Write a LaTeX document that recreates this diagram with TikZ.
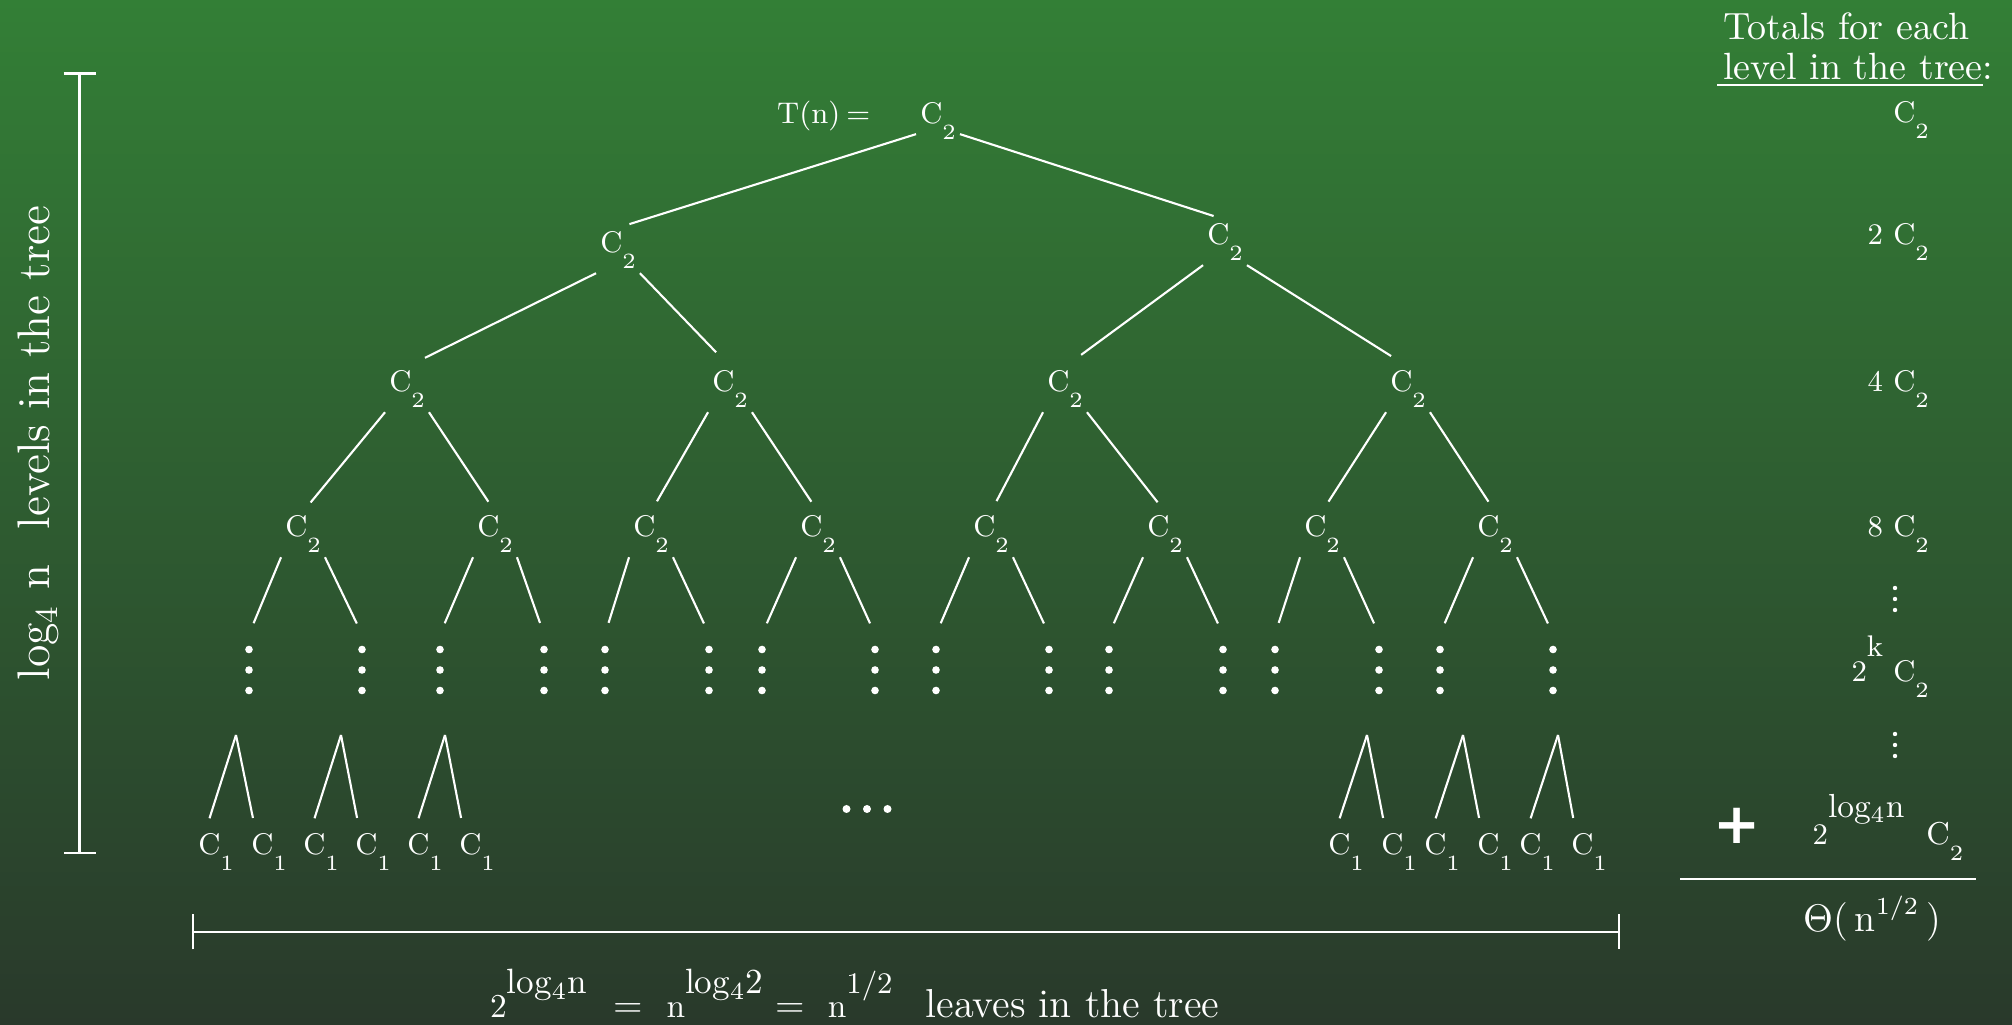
\documentclass[tikz,border=0pt]{standalone}
\usepackage{fontspec}
\usepackage{tikz}
\usetikzlibrary{arrows.meta}

\newfontfamily\plusfont{DejaVu Sans}

\definecolor{boardtop}{RGB}{51,127,54}
\definecolor{boardbot}{RGB}{41,57,43}

% C with its index dropped well below the line
\newcommand{\cterm}[1]{C\raisebox{-1.6mm}{\fontsize{6.2}{7}\selectfont #1}}
% base with a large raised exponent
\newcommand{\bigexp}[3]{{\fontsize{9.5}{11}\selectfont #1}\raisebox{2.4mm}{\fontsize{#3}{11}\selectfont #2}}

\begin{document}
\begin{tikzpicture}[x=1cm,y=1cm,
  term/.style={text=white,font=\fontsize{8.5}{10}\selectfont,inner sep=1pt,anchor=base},
  total/.style={text=white,font=\fontsize{8.5}{10}\selectfont,inner sep=1pt,anchor=base east},
  br/.style={draw=white,line width=0.6pt,shorten >=1.2mm},
  dim/.style={draw=white,line width=0.6pt,{Bar[width=3.2mm]}-{Bar[width=3.2mm]}},
  dotcol/.style={minimum width=2mm,minimum height=7mm,inner sep=0pt,
    path picture={\foreach \k in {-1,0,1}
      \fill[white] ([yshift=\k*2.05mm]path picture bounding box.center) circle (0.38mm);}},
  smalldots/.style={minimum width=1mm,minimum height=3.2mm,inner sep=0pt,
    path picture={\foreach \k in {-1,0,1}
      \fill[white] ([yshift=\k*1.1mm]path picture bounding box.center) circle (0.22mm);}},
  dotrow/.style={minimum width=6mm,minimum height=2mm,inner sep=0pt,
    path picture={\foreach \k in {-1,0,1}
      \fill[white] ([xshift=\k*2.05mm]path picture bounding box.center) circle (0.4mm);}}]
\useasboundingbox (0,0) rectangle (20.12,10.25);
\shade[top color=boardtop,bottom color=boardbot] (0,0) rectangle (20.12,10.25);

% recursion tree
\node[term,anchor=base west] (tn) at (7.73,9.01) {T(n)\hspace{0.6mm}=};
\node[term] (r) at (9.38,9.01) {\cterm{2}};
\node[term] (a1) at (6.18,7.72) {\cterm{2}};
\node[term] (a2) at (12.25,7.80) {\cterm{2}};
\node[term] (b1) at (4.07,6.33) {\cterm{2}};
\node[term] (b2) at (7.30,6.33) {\cterm{2}};
\node[term] (b3) at (10.65,6.33) {\cterm{2}};
\node[term] (b4) at (14.08,6.33) {\cterm{2}};
\node[term] (c1) at (3.03,4.88) {\cterm{2}};
\node[term] (c2) at (4.95,4.88) {\cterm{2}};
\node[term] (c3) at (6.51,4.88) {\cterm{2}};
\node[term] (c4) at (8.18,4.88) {\cterm{2}};
\node[term] (c5) at (9.91,4.88) {\cterm{2}};
\node[term] (c6) at (11.65,4.88) {\cterm{2}};
\node[term] (c7) at (13.22,4.88) {\cterm{2}};
\node[term] (c8) at (14.95,4.88) {\cterm{2}};
\node[dotcol] (d1) at (2.49,3.55) {};
\node[dotcol] (d2) at (3.62,3.55) {};
\node[dotcol] (d3) at (4.40,3.55) {};
\node[dotcol] (d4) at (5.44,3.55) {};
\node[dotcol] (d5) at (6.05,3.55) {};
\node[dotcol] (d6) at (7.09,3.55) {};
\node[dotcol] (d7) at (7.62,3.55) {};
\node[dotcol] (d8) at (8.75,3.55) {};
\node[dotcol] (d9) at (9.36,3.55) {};
\node[dotcol] (d10) at (10.49,3.55) {};
\node[dotcol] (d11) at (11.09,3.55) {};
\node[dotcol] (d12) at (12.23,3.55) {};
\node[dotcol] (d13) at (12.75,3.55) {};
\node[dotcol] (d14) at (13.79,3.55) {};
\node[dotcol] (d15) at (14.40,3.55) {};
\node[dotcol] (d16) at (15.53,3.55) {};
\node[term] (l1) at (2.16,1.70) {\cterm{1}};
\node[term] (l2) at (2.69,1.70) {\cterm{1}};
\node[term] (l3) at (3.21,1.70) {\cterm{1}};
\node[term] (l4) at (3.73,1.70) {\cterm{1}};
\node[term] (l5) at (4.25,1.70) {\cterm{1}};
\node[term] (l6) at (4.77,1.70) {\cterm{1}};
\node[term] (l7) at (13.46,1.70) {\cterm{1}};
\node[term] (l8) at (13.99,1.70) {\cterm{1}};
\node[term] (l9) at (14.42,1.70) {\cterm{1}};
\node[term] (l10) at (14.95,1.70) {\cterm{1}};
\node[term] (l11) at (15.37,1.70) {\cterm{1}};
\node[term] (l12) at (15.89,1.70) {\cterm{1}};
\node[dotrow] (mid) at (8.67,2.16) {};
\coordinate (p1) at (2.36,2.90);
\coordinate (p2) at (3.41,2.90);
\coordinate (p3) at (4.45,2.90);
\coordinate (p4) at (13.67,2.90);
\coordinate (p5) at (14.63,2.90);
\coordinate (p6) at (15.58,2.90);

\draw[br] (r.210) -- (a1.north);
\draw[br] (r.-30) -- (a2.north);
\draw[br,shorten >=2mm] (a1.south west) -- (b1.north);
\draw[br,shorten >=2mm] (a1.south east) -- (b2.north);
\draw[br,shorten >=2mm] (a2.south west) -- (b3.north);
\draw[br,shorten >=2mm] (a2.south east) -- (b4.north);
\draw[br] (b1.south west) -- (c1.north);
\draw[br] (b1.south east) -- (c2.north);
\draw[br] (b2.south west) -- (c3.north);
\draw[br] (b2.south east) -- (c4.north);
\draw[br] (b3.south west) -- (c5.north);
\draw[br] (b3.south east) -- (c6.north);
\draw[br] (b4.south west) -- (c7.north);
\draw[br] (b4.south east) -- (c8.north);
\draw[br] (c1.south west) -- (d1.north);
\draw[br] (c1.south east) -- (d2.north);
\draw[br] (c2.south west) -- (d3.north);
\draw[br] (c2.south east) -- (d4.north);
\draw[br] (c3.south west) -- (d5.north);
\draw[br] (c3.south east) -- (d6.north);
\draw[br] (c4.south west) -- (d7.north);
\draw[br] (c4.south east) -- (d8.north);
\draw[br] (c5.south west) -- (d9.north);
\draw[br] (c5.south east) -- (d10.north);
\draw[br] (c6.south west) -- (d11.north);
\draw[br] (c6.south east) -- (d12.north);
\draw[br] (c7.south west) -- (d13.north);
\draw[br] (c7.south east) -- (d14.north);
\draw[br] (c8.south west) -- (d15.north);
\draw[br] (c8.south east) -- (d16.north);
\draw[br] (p1) -- (l1.114);
\draw[br] (p1) -- (l2.121);
\draw[br] (p2) -- (l3.114);
\draw[br] (p2) -- (l4.121);
\draw[br] (p3) -- (l5.114);
\draw[br] (p3) -- (l6.121);
\draw[br] (p4) -- (l7.114);
\draw[br] (p4) -- (l8.121);
\draw[br] (p5) -- (l9.114);
\draw[br] (p5) -- (l10.121);
\draw[br] (p6) -- (l11.114);
\draw[br] (p6) -- (l12.121);

% height of the tree
\coordinate (lvtop) at (0.795,9.525);
\coordinate (lvbot) at (0.795,1.71);
\draw[dim] (lvtop) -- (lvbot);
\node[rotate=90,anchor=base,text=white,font=\fontsize{13}{15}\selectfont,inner sep=0pt] (nlevels) at (0.50,5.82) {log\textsubscript{4} n\hspace{3.6mm}levels in the tree};

% width of the leaf level
\coordinate (lfleft) at (1.92,0.93);
\coordinate (lfright) at (16.20,0.93);
\draw[dim,{Bar[width=3.5mm]}-{Bar[width=3.5mm]}] (lfleft) -- (lfright);
\node[anchor=base west,text=white,font=\fontsize{11}{13}\selectfont,inner sep=1pt] (nleaves) at (4.86,0.07) {\bigexp{2}{log\textsubscript{4}n}{10}\hspace{2.6mm}=\hspace{2.4mm}\bigexp{n}{log\textsubscript{4}2}{10}\hspace{1.2mm}=\hspace{2.3mm}\bigexp{n}{1/2}{8.5}\hspace{3.3mm}{\fontsize{11.5}{13}\selectfont leaves in the tree}};

% per-level totals
\node[anchor=north west,align=left,text=white,font=\fontsize{10.8}{11.4}\selectfont,inner sep=1pt] (head) at (17.13,10.165) {\hspace*{0.6mm}Totals for each\\\underline{\hspace*{0.6mm}level in the tree}:};
\node[total] (t0) at (19.33,9.02) {\cterm{2}};
\node[total] (t1) at (19.33,7.80) {2 \cterm{2}};
\node[total] (t2) at (19.33,6.33) {4 \cterm{2}};
\node[total] (t3) at (19.33,4.88) {8 \cterm{2}};
\node[smalldots] (tv1) at (18.95,4.26) {};
\node[total] (tk) at (19.33,3.43) {2\raisebox{2.5mm}{k} \cterm{2}};
\node[smalldots] (tv2) at (18.95,2.80) {};
\node[text=white,font=\plusfont\fontsize{16}{18}\selectfont\bfseries,inner sep=0pt] (plus) at (17.37,1.99) {+};
\node[anchor=base west,text=white,inner sep=1pt] (tlast) at (18.085,1.80) {{\fontsize{8.5}{10}\selectfont 2}\raisebox{2.7mm}{\fontsize{9.5}{11}\selectfont log\textsubscript{4}n}\hspace{2.2mm}{\fontsize{9}{10}\selectfont\cterm{2}}};
\coordinate (sumleft) at (16.80,1.46);
\coordinate (sumright) at (19.76,1.46);
\draw[white,line width=0.7pt] (sumleft) -- (sumright);
\node[anchor=base west,text=white,font=\fontsize{11}{13}\selectfont,inner sep=1pt] (sum) at (17.99,0.93) {$\Theta$(\hspace{0.7mm}n\raisebox{1.7mm}{\fontsize{7}{8}\selectfont 1/2}\hspace{0.9mm})};
\end{tikzpicture}
\end{document}
